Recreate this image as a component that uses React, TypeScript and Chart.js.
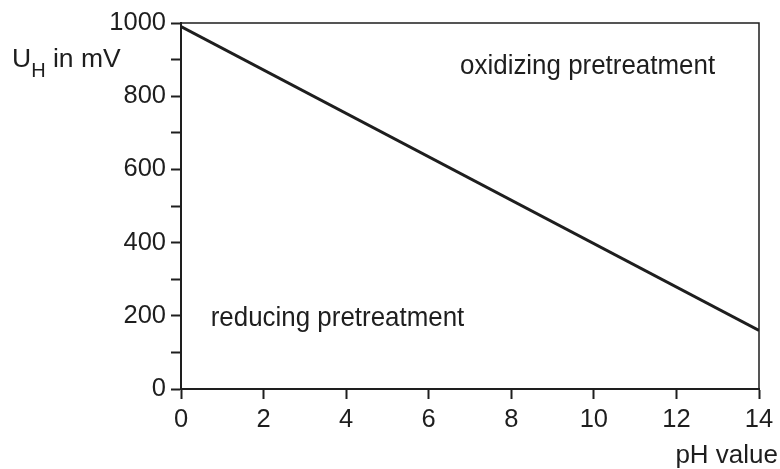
import React, { useEffect, useRef } from "react";
import { Chart, registerables } from "chart.js";

Chart.register(...registerables);

const phValues = [0, 14];
const potentialValues = [990, 160];
const xTickStep = 2;
const yTickStep = 100;
const yLabelStep = 200;
const annotations = [
  { text: "oxidizing pretreatment", x: 6.76, y: 861 },
  { text: "reducing pretreatment", x: 0.72, y: 173 },
];

const FONT = "'Liberation Sans', Arial, sans-serif";
const INK = "#1e1e1e";

export default function App() {
  const ref = useRef<HTMLCanvasElement | null>(null);

  useEffect(() => {
    document.body.style.margin = "0";
    const canvas = ref.current;
    if (!canvas) return;

    const framePlugin = {
      id: "frame",
      afterDraw(chart: any) {
        const { ctx, chartArea } = chart;
        const xs = chart.scales.x;
        const ys = chart.scales.y;
        ctx.save();
        // top and right border
        ctx.strokeStyle = INK;
        ctx.lineWidth = 1.5;
        ctx.beginPath();
        ctx.moveTo(chartArea.left, chartArea.top);
        ctx.lineTo(chartArea.right, chartArea.top);
        ctx.lineTo(chartArea.right, chartArea.bottom);
        ctx.stroke();
        // annotations
        ctx.fillStyle = INK;
        ctx.textAlign = "left";
        ctx.textBaseline = "alphabetic";
        for (const a of annotations) {
          ctx.save();
          ctx.translate(xs.getPixelForValue(a.x), ys.getPixelForValue(a.y));
          ctx.scale(0.96, 1.04);
          ctx.font = `27px ${FONT}`;
          ctx.fillText(a.text, 0, 0);
          ctx.restore();
        }
        // y axis title with subscript
        ctx.font = `26.5px ${FONT}`;
        ctx.fillText("U", 12, 67);
        const uw = ctx.measureText("U").width;
        ctx.font = `20px ${FONT}`;
        ctx.fillText("H", 12 + uw, 77);
        const hw = ctx.measureText("H").width;
        ctx.font = `26.5px ${FONT}`;
        ctx.fillText(" in mV", 12 + uw + hw, 67);
        // x axis title
        ctx.font = `26px ${FONT}`;
        ctx.textAlign = "right";
        ctx.fillText("pH value", 778, 463);
        ctx.restore();
      },
    };

    const chart = new Chart(canvas, {
      type: "line",
      data: {
        datasets: [
          {
            data: phValues.map((x, i) => ({ x, y: potentialValues[i] })),
            borderColor: INK,
            borderWidth: 3,
            pointRadius: 0,
            fill: false,
            tension: 0,
          },
        ],
      },
      options: {
        responsive: false,
        animation: false,
        layout: { padding: { top: 23, right: 21, left: 0, bottom: 0 } },
        plugins: { legend: { display: false }, tooltip: { enabled: false } },
        scales: {
          x: {
            type: "linear",
            min: 0,
            max: 14,
            ticks: {
              stepSize: xTickStep,
              color: INK,
              font: { family: FONT, size: 25.5 },
              padding: 6,
              maxRotation: 0,
            },
            grid: {
              drawOnChartArea: false,
              drawTicks: true,
              tickLength: 10,
              tickColor: INK,
              tickWidth: 2,
            },
            border: { color: INK, width: 2 },
            afterFit(scale: any) {
              scale.height = 80;
            },
          },
          y: {
            type: "linear",
            min: 0,
            max: 1000,
            ticks: {
              stepSize: yTickStep,
              color: INK,
              font: { family: FONT, size: 25.5 },
              padding: 5,
              callback: (v: any) => (Number(v) % yLabelStep === 0 ? String(v) : ""),
            },
            grid: {
              drawOnChartArea: false,
              drawTicks: true,
              tickLength: 10,
              tickColor: INK,
              tickWidth: 2,
            },
            border: { color: INK, width: 2 },
            afterFit(scale: any) {
              scale.width = 181;
            },
          },
        },
      },
      plugins: [framePlugin],
    } as any);

    return () => chart.destroy();
  }, []);

  return (
    <div style={{ width: 780, height: 469, background: "#fff" }}>
      <canvas ref={ref} width={780} height={469} />
    </div>
  );
}
